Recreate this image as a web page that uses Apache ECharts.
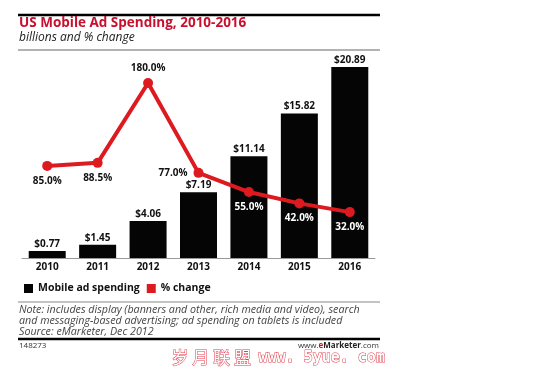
<!DOCTYPE html>
<html><head><meta charset="utf-8">
<script src="https://cdn.jsdelivr.net/npm/echarts@6/dist/echarts.min.js"></script>
<style>html,body{margin:0;padding:0;background:#fff}#c{width:553px;height:369px}</style>
</head><body><div id="c"></div>
<script>
const categories = ['2010','2011','2012','2013','2014','2015','2016'];
const spending = [0.77, 1.45, 4.06, 7.19, 11.14, 15.82, 20.89];
const pctChange = [85.0, 88.5, 180.0, 77.0, 55.0, 42.0, 32.0];
const pctLabelPos = ['bottom','bottom','top','left','bottom','bottom','bottom'];
const pctLabelColor = ['#111','#111','#111','#111','#fff','#fff','#fff'];
const noteLines = [
  'Note: includes display (banners and other, rich media and video), search',
  'and messaging-based advertising; ad spending on tablets is included',
  'Source: eMarketer, Dec 2012'
];

const chart = echarts.init(document.getElementById('c'));
const FONT = 'Open Sans';
chart.setOption({
  animation: false,
  textStyle: { fontFamily: FONT },
  grid: { left: 22, right: 178, top: 56, bottom: 111 },
  legend: {
    left: 19, top: 278, itemWidth: 9, itemHeight: 9, itemGap: 7,
    icon: 'rect',
    textStyle: { fontFamily: FONT, fontWeight: 'bold', fontSize: 10.5, color: '#111' },
    data: ['Mobile ad spending', '% change']
  },
  xAxis: {
    type: 'category', data: categories,
    axisLine: { lineStyle: { color: '#999', width: 1 } },
    axisTick: { show: false },
    axisLabel: { fontFamily: FONT, fontWeight: 'bold', fontSize: 10, color: '#111', margin: 4 }
  },
  yAxis: [
    { type: 'value', min: 0, max: 22.1, show: false, splitLine: { show: false } },
    { type: 'value', min: -20.6, max: 211, show: false, splitLine: { show: false } }
  ],
  series: [
    {
      name: 'Mobile ad spending', type: 'bar', data: spending, barWidth: 37,
      itemStyle: { color: '#050505' },
      label: { show: true, position: 'top', distance: 2, fontFamily: FONT, fontWeight: 'bold', fontSize: 10, color: '#111',
        formatter: p => '$' + p.value.toFixed(2) }
    },
    {
      name: '% change', type: 'line', yAxisIndex: 1,
      data: pctChange.map((v, i) => ({
        value: v,
        label: { position: pctLabelPos[i], color: pctLabelColor[i], distance: pctLabelPos[i] === 'left' ? 6 : 5 }
      })),
      symbol: 'circle', symbolSize: 10,
      lineStyle: { color: '#dd1a20', width: 4 },
      itemStyle: { color: '#dd1a20' },
      label: { show: true, fontFamily: FONT, fontWeight: 'bold', fontSize: 10,
        formatter: p => p.value.toFixed(1) + '%' }
    }
  ],
  graphic: [
    { type: 'line', shape: { x1: 18, y1: 15, x2: 380, y2: 15 }, style: { stroke: '#000', lineWidth: 2.5 } },
    { type: 'text', left: 19, top: 16, style: { text: 'US Mobile Ad Spending, 2010-2016', font: 'bold 13.5px "Open Sans"', fill: '#c8102e' } },
    { type: 'text', left: 19, top: 32, style: { text: 'billions and % change', font: 'italic 12px "Open Sans"', fill: '#222' } },
    { type: 'line', shape: { x1: 18, y1: 50, x2: 380, y2: 50 }, style: { stroke: '#999', lineWidth: 1.5 } },
    { type: 'line', shape: { x1: 18, y1: 302, x2: 380, y2: 302 }, style: { stroke: '#888', lineWidth: 1 } },
    { type: 'text', left: 19, top: 304, style: { text: noteLines.join('\n'), font: 'italic 10.7px "Open Sans"', fill: '#444', lineHeight: 11 } },
    { type: 'line', shape: { x1: 18, y1: 339, x2: 380, y2: 339 }, style: { stroke: '#000', lineWidth: 2.5 } },
    { type: 'text', left: 19, top: 342, style: { text: '148273', font: '8px "Open Sans"', fill: '#333' } },
    { type: 'text', right: 553 - 379, top: 342, style: {
        text: '{a|www.}{e|e}{b|Marketer}{a|.com}',
        rich: {
          a: { fontFamily: FONT, fontSize: 8, fill: '#333' },
          e: { fontFamily: FONT, fontSize: 8, fontWeight: 'bold', fill: '#d0141b' },
          b: { fontFamily: FONT, fontSize: 8, fontWeight: 'bold', fill: '#222' }
        } } },
    { type: 'text', left: 171, top: 349, style: { text: '岁 月 联 盟', font: '17px "Noto Sans CJK SC"', fill: '#fff', stroke: '#e2404e', lineWidth: 1 } },
    { type: 'text', left: 258, top: 350, style: { text: 'www. 5yue. com', font: 'bold 15px "DejaVu Sans Mono"', fill: '#fff', stroke: '#e2404e', lineWidth: 1 } }
  ]
});
</script></body></html>
